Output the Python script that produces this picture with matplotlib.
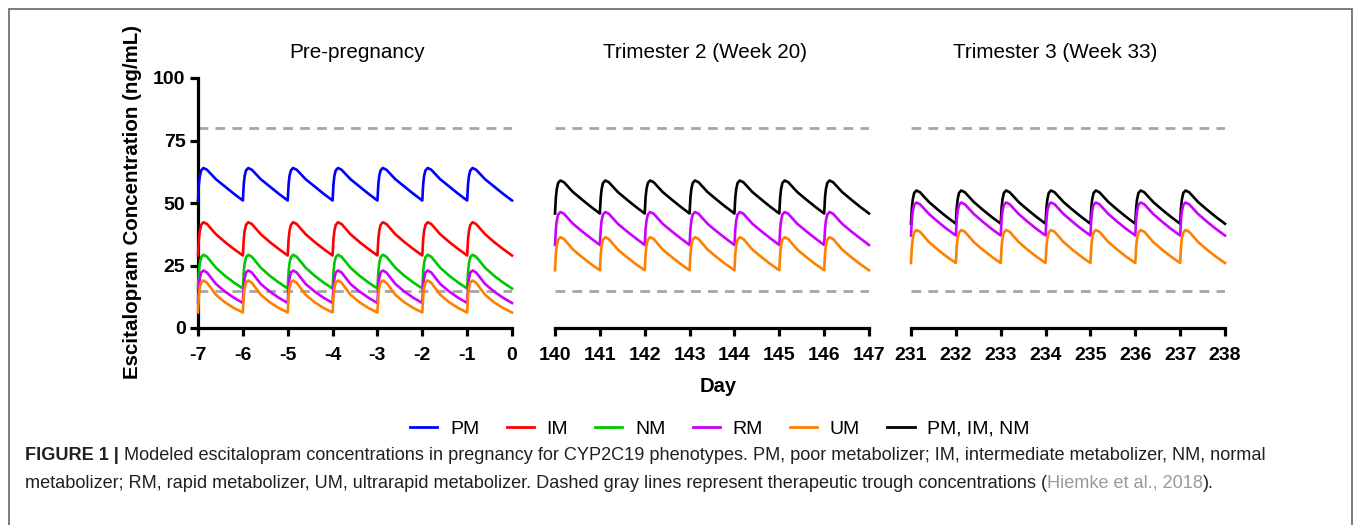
import matplotlib
matplotlib.use("Agg")
import matplotlib.pyplot as plt
from matplotlib.lines import Line2D
from matplotlib.patches import Rectangle

# ---- data ------------------------------------------------------------------
# one dosing interval (days after dose); the curves repeat every day (steady state)
CYCLE_T = [0.0, 0.02, 0.04, 0.07, 0.12, 0.2, 0.4, 0.6, 0.8]
N_DOSES = 7

PANEL_TITLES = ["Pre-pregnancy", "Trimester 2 (Week 20)", "Trimester 3 (Week 33)"]
PANEL_START = [-7, 140, 231]

# pre-pregnancy, concentration (ng/mL) at CYCLE_T
PRE_PM = [51.0, 57.5, 60.8, 63.0, 64.0, 63.3, 59.5, 56.6, 53.7]
PRE_IM = [29.0, 35.5, 38.8, 41.2, 42.3, 41.6, 37.5, 34.4, 31.6]
PRE_NM = [15.8, 22.5, 25.9, 28.3, 29.3, 28.5, 24.1, 20.9, 18.2]
PRE_RM = [10.0, 16.5, 19.8, 22.2, 23.0, 22.2, 17.6, 14.6, 12.1]
PRE_UM = [6.2, 12.8, 16.0, 18.2, 19.0, 18.1, 13.3, 10.3, 8.0]

# trimester 2
T2_PIN = [45.8, 52.3, 55.6, 58.0, 59.0, 58.3, 54.4, 51.4, 48.5]
T2_RM = [33.2, 39.7, 43.0, 45.4, 46.4, 45.7, 41.7, 38.7, 35.9]
T2_UM = [23.1, 29.7, 33.0, 35.3, 36.3, 35.6, 31.4, 28.4, 25.6]

# trimester 3
T3_PIN = [41.7, 48.2, 51.5, 54.0, 55.0, 54.3, 50.4, 47.3, 44.4]
T3_RM = [37.0, 43.5, 46.8, 49.2, 50.2, 49.5, 45.6, 42.5, 39.6]
T3_UM = [26.0, 32.6, 35.9, 38.2, 39.2, 38.5, 34.4, 31.3, 28.5]

THERAPEUTIC_RANGE = [15, 80]

LEGEND_LABELS = ["PM", "IM", "NM", "RM", "UM", "PM, IM, NM"]
COLORS = {"PM": "#0000ff", "IM": "#ff0000", "NM": "#00c800", "RM": "#cc00ff",
          "UM": "#ff8000", "PM, IM, NM": "#000000"}

PANEL_SERIES = [
    [("PM", PRE_PM), ("IM", PRE_IM), ("NM", PRE_NM), ("RM", PRE_RM), ("UM", PRE_UM)],
    [("PM, IM, NM", T2_PIN), ("RM", T2_RM), ("UM", T2_UM)],
    [("PM, IM, NM", T3_PIN), ("RM", T3_RM), ("UM", T3_UM)],
]

# ---- style -----------------------------------------------------------------
plt.rcParams["font.family"] = ["Liberation Sans", "DejaVu Sans"]
plt.rcParams["axes.unicode_minus"] = False

W, H = 1355, 525
fig = plt.figure(figsize=(W / 100, H / 100), dpi=100)


def fx(px):
    return px / W


def fy(py):
    return 1 - py / H


def build_curve(start, cycle):
    xs, ys = [], []
    for d in range(N_DOSES):
        for t, c in zip(CYCLE_T, cycle):
            xs.append(start + d + t)
            ys.append(c)
    xs.append(start + N_DOSES)
    ys.append(cycle[0])
    return xs, ys


AX_LEFT = [198, 555, 911]
AX_WIDTH = 314
AX_TOP, AX_BOTTOM = 78, 328
TITLE_X = [357, 705, 1055]

for i, (start, series) in enumerate(zip(PANEL_START, PANEL_SERIES)):
    ax = fig.add_axes([fx(AX_LEFT[i]), fy(AX_BOTTOM), fx(AX_WIDTH),
                       (AX_BOTTOM - AX_TOP) / H])
    ax.set_xlim(start, start + N_DOSES)
    ax.set_ylim(0, 100)
    for y in THERAPEUTIC_RANGE:
        ax.plot([start, start + N_DOSES], [y, y], color="#a6a6a6", lw=2.0,
                dashes=(3.5, 2.6), zorder=1)
    for name, cyc in series:
        xs, ys = build_curve(start, cyc)
        ax.plot(xs, ys, color=COLORS[name], lw=1.9, zorder=3, clip_on=False,
                solid_joinstyle="round")

    ax.spines["top"].set_visible(False)
    ax.spines["right"].set_visible(False)
    ax.spines["bottom"].set_linewidth(2.3)
    ax.spines["left"].set_linewidth(2.3)
    ax.set_xticks(range(start, start + N_DOSES + 1))
    ax.tick_params(axis="x", direction="out", length=6, width=2.3, pad=8,
                   labelsize=14)
    # end caps on the x axis line
    caps = [start + N_DOSES] if i == 0 else [start, start + N_DOSES]
    ax.set_xticks(caps, minor=True)
    ax.tick_params(axis="x", which="minor", direction="in", length=4.5, width=2.3)
    for lab in ax.get_xticklabels():
        lab.set_fontweight("bold")
    if i == 0:
        ax.set_yticks([0, 25, 50, 75, 100])
        ax.tick_params(axis="y", direction="out", length=6, width=2.3, pad=3,
                       labelsize=14)
        for lab in ax.get_yticklabels():
            lab.set_fontweight("bold")
    else:
        ax.spines["left"].set_visible(False)
        ax.set_yticks([])
    ax.patch.set_alpha(0)
    fig.text(fx(TITLE_X[i]), fy(53), PANEL_TITLES[i], ha="center", va="center",
             fontsize=14.9)

fig.text(fx(133), fy(202), "Escitalopram Concentration (ng/mL)", rotation=90,
         ha="center", va="center", fontsize=14.8, fontweight="bold")
fig.text(fx(718), fy(386), "Day", ha="center", va="center", fontsize=14.5,
         fontweight="bold")

handles = [Line2D([0], [0], color=COLORS[n], lw=2) for n in LEGEND_LABELS]
fig.legend(handles, LEGEND_LABELS, loc="center", bbox_to_anchor=(fx(720), fy(429)),
           ncol=6, frameon=False, fontsize=14, handlelength=1.4,
           handletextpad=0.65, columnspacing=1.4)

# frame around figure + caption
fig.add_artist(Rectangle((fx(9), -0.1), fx(1352 - 9), 1.1 - 9 / H,
                         transform=fig.transFigure, fill=False,
                         edgecolor="#666666", lw=1.2))

renderer = fig.canvas.get_renderer()
CAP_SIZE = 13.1
CAP_COLOR = "#231f20"


def write_line(x_px, y_px, pieces):
    x = x_px
    for text, weight, color in pieces:
        t = fig.text(fx(x), fy(y_px), text, ha="left", va="center",
                     fontsize=CAP_SIZE, fontweight=weight, color=color)
        x += t.get_window_extent(renderer).width


write_line(25, 456, [
    ("FIGURE 1 |", "bold", CAP_COLOR),
    (" Modeled escitalopram concentrations in pregnancy for CYP2C19 phenotypes. "
     "PM, poor metabolizer; IM, intermediate metabolizer, NM, normal", "normal", CAP_COLOR),
])
write_line(25, 483, [
    ("metabolizer; RM, rapid metabolizer, UM, ultrarapid metabolizer. Dashed gray "
     "lines represent therapeutic trough concentrations (", "normal", CAP_COLOR),
    ("Hiemke et al., 2018", "normal", "#9a9a9a"),
    (").", "normal", CAP_COLOR),
])

fig.savefig("out.png", dpi=100)
